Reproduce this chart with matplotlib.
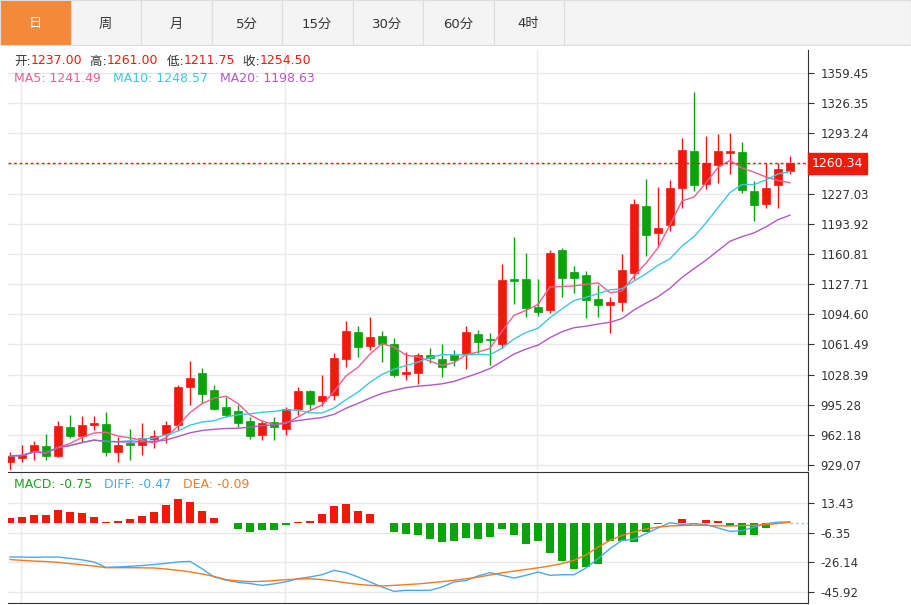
import numpy as np
import pandas as pd
import matplotlib
matplotlib.use("Agg")
import matplotlib.pyplot as plt
from matplotlib.patches import Rectangle
from matplotlib import font_manager

cjk = [f.name for f in font_manager.fontManager.ttflist if "CJK" in f.name]
print(sorted(set(cjk)))
cjk_name = "Noto Sans CJK SC" if "Noto Sans CJK SC" in cjk else (cjk[0] if cjk else "DejaVu Sans")
plt.rcParams["font.family"] = ["DejaVu Sans", cjk_name]

# candles: open, high, low, close
opens = [932.4, 936.8, 943.4, 950.1, 939.0, 971.0, 961.1, 973.2, 974.3, 943.4,
         952.3, 951.2, 957.8, 963.3, 973.2, 1015.2, 1030.6, 1011.9, 993.1, 988.7,
         977.7, 962.2, 976.5, 968.8, 990.9, 1010.8, 999.7, 1006.3, 1045.0, 1074.8,
         1059.3, 1070.3, 1061.5, 1029.5, 1030.6, 1049.4, 1045.0, 1049.4, 1050.5, 1072.6,
         1067.0, 1061.5, 1133.2, 1133.2, 1102.3, 1099.0, 1165.2, 1141.0, 1137.7, 1111.2,
         1104.6, 1107.9, 1139.9, 1213.8, 1184.0, 1192.8, 1233.7, 1273.4, 1238.1, 1258.0,
         1271.2, 1272.3, 1230.4, 1216.0, 1237.0, 1252.4]
highs = [943.4, 951.2, 955.6, 963.3, 977.7, 984.3, 983.2, 983.2, 987.6, 960.0,
         968.8, 975.4, 967.7, 977.7, 1017.4, 1042.8, 1036.1, 1017.4, 1004.1, 995.3,
         982.1, 978.8, 982.1, 993.1, 1015.2, 1011.9, 1028.4, 1051.6, 1086.9, 1081.4,
         1091.3, 1075.9, 1068.1, 1052.7, 1051.6, 1057.1, 1061.5, 1054.9, 1081.4, 1077.0,
         1073.7, 1149.8, 1179.6, 1161.9, 1133.2, 1165.2, 1167.0, 1147.6, 1142.1, 1126.6,
         1113.4, 1160.8, 1221.5, 1243.6, 1234.8, 1242.5, 1287.7, 1338.5, 1289.9, 1292.1,
         1293.2, 1283.3, 1241.4, 1260.2, 1261.0, 1267.9]
lows = [923.6, 932.4, 934.6, 934.6, 937.9, 958.9, 954.5, 967.7, 939.0, 932.4,
        934.6, 940.1, 947.9, 953.4, 967.7, 995.3, 997.5, 989.8, 982.1, 971.0,
        957.8, 956.7, 956.7, 962.2, 984.3, 990.9, 994.2, 1000.8, 1037.2, 1047.2,
        1054.9, 1041.7, 1026.2, 1022.9, 1018.5, 1040.6, 1026.2, 1038.3, 1035.0, 1051.6,
        1039.4, 1058.0, 1105.6, 1091.3, 1092.4, 1096.0, 1113.4, 1117.8, 1090.2, 1091.3,
        1073.7, 1097.9, 1133.0, 1158.6, 1169.7, 1186.2, 1211.6, 1230.4, 1232.6, 1239.2,
        1249.1, 1228.1, 1197.2, 1211.6, 1211.75, 1249.1]
closes = [939.0, 940.1, 951.2, 939.0, 972.1, 961.1, 973.2, 975.4, 943.4, 951.2,
          951.2, 958.9, 961.1, 973.2, 1015.2, 1025.1, 1007.4, 990.9, 984.3, 975.4,
          961.1, 975.4, 971.0, 990.9, 1010.8, 996.4, 1005.2, 1046.1, 1075.9, 1058.2,
          1069.2, 1061.5, 1028.4, 1030.6, 1049.4, 1046.1, 1037.2, 1043.9, 1074.8, 1063.7,
          1065.9, 1132.1, 1131.0, 1101.2, 1096.8, 1161.9, 1134.3, 1134.3, 1110.1, 1104.6,
          1107.9, 1143.2, 1216.0, 1181.8, 1189.5, 1233.7, 1274.5, 1237.0, 1260.2, 1273.4,
          1273.4, 1231.5, 1214.9, 1233.7, 1254.5, 1260.2]

macd_hist = [3.3, 4.0, 5.6, 5.6, 8.7, 7.1, 6.7, 4.2, 0.7, 1.6,
             2.7, 4.9, 7.6, 12.0, 16.0, 14.0, 8.4, 3.3, -0.2, -3.6,
             -5.8, -4.9, -4.4, -1.1, 0.9, 1.3, 6.2, 11.6, 12.9, 8.4,
             6.2, -0.2, -6.2, -7.1, -7.8, -10.7, -12.4, -11.8, -9.6, -10.9,
             -9.5, -3.6, -8.2, -13.8, -12.2, -20.0, -25.1, -30.7, -29.3, -27.1,
             -12.0, -12.0, -12.9, -5.8, -0.3, -0.2, 2.7, -0.3, 2.2, 1.6,
             -2.2, -8.2, -8.2, -3.3, -0.3, 0.0]
diff = [-22.6, -22.6, -22.8, -22.6, -22.6, -23.5, -24.5, -25.9, -29.5, -29.2,
        -28.8, -28.3, -27.6, -26.8, -25.9, -25.5, -30.4, -35.9, -38.0, -39.5,
        -40.3, -41.5, -40.5, -39.1, -37.0, -35.9, -34.4, -31.5, -33.0, -35.9,
        -39.2, -42.6, -45.5, -44.8, -44.8, -44.8, -42.6, -39.2, -38.3, -35.2,
        -33.0, -34.8, -36.6, -34.8, -32.6, -34.8, -34.4, -34.4, -29.9, -23.7,
        -17.0, -11.5, -10.8, -7.0, -3.2, 0.3, -1.0, -0.4, -0.9, -3.2,
        -5.5, -5.1, -2.6, -0.4, 0.7, 0.7]
dea = [-24.3, -24.8, -25.3, -25.6, -26.2, -27.0, -27.8, -28.6, -29.7, -29.7,
       -29.7, -29.8, -29.9, -30.6, -31.5, -32.5, -33.9, -35.5, -37.7, -38.5,
       -39.0, -38.8, -38.3, -37.7, -37.3, -37.1, -37.6, -38.6, -39.8, -40.8,
       -41.5, -41.9, -41.5, -41.0, -40.5, -39.8, -39.0, -38.1, -37.1, -36.0,
       -34.6, -33.1, -32.0, -30.9, -29.8, -28.5, -27.0, -24.8, -21.2, -16.0,
       -11.5, -8.2, -5.9, -3.9, -2.6, -1.9, -1.6, -1.4, -1.5, -1.8,
       -1.9, -1.6, -1.4, -0.9, -0.3, 0.7]

price_ticks = [929.07, 962.18, 995.28, 1028.39, 1061.49, 1094.60, 1127.71,
               1160.81, 1193.92, 1227.03, 1260.13, 1293.24, 1326.35, 1359.45]
macd_ticks = [13.43, -6.35, -26.14, -45.92]
tabs = ["日", "周", "月", "5分", "15分", "30分", "60分", "4时"]
last_price = 1260.34

RED = "#f01a0a"
GREEN = "#08a408"
C_MA5, C_MA10, C_MA20 = "#f0608c", "#3ec8de", "#b258c8"
W, H = 911, 605

fig = plt.figure(figsize=(W / 100, H / 100), dpi=100)
renderer = fig.canvas.get_renderer()


def px_axes(x0, y0, x1, y1):
    return fig.add_axes([x0 / W, 1 - y1 / H, (x1 - x0) / W, (y1 - y0) / H])


def seg_text(x, y, parts, size=9):
    # x, y in pixels from top-left; parts drawn one after another
    for txt, col in parts:
        t = fig.text(x / W, 1 - y / H, txt, fontsize=size, color=col, va="center")
        x += t.get_window_extent(renderer).width


# tab bar
tab_ax = px_axes(0, 0, W, 46)
tab_ax.set_xlim(0, W)
tab_ax.set_ylim(46, 0)
tab_ax.axis("off")
tab_ax.add_patch(Rectangle((0, 0), W, 45, fc="#f4f4f4", ec="#dddddd"))
for i, t in enumerate(tabs):
    x0 = i * 70.5
    active = i == 0
    tab_ax.add_patch(Rectangle((x0, 0), 70.5, 45, fc="#f5893a" if active else "#f4f4f4",
                               ec="#dddddd", lw=0.8))
    tab_ax.text(x0 + 35, 24, t, ha="center", va="center", fontsize=9.5,
                color="white" if active else "#333333")

n = len(closes)
xs = np.arange(n)
cl = pd.Series(closes)
ma5 = cl.rolling(5, min_periods=1).mean()
ma10 = cl.rolling(10, min_periods=1).mean()
ma20 = cl.rolling(20, min_periods=1).mean()

# main price panel
ax = px_axes(8, 50, 808, 470)
ppx = 1.1035
ax.set_ylim(929.07 - 5 * ppx, 929.07 + 413 * ppx)
ax.set_xlim(-0.17, 66.5)
for p in price_ticks:
    ax.axhline(p, color="#e6eaee", lw=1, zorder=0)
for v in [0.9, 22.9, 43.9]:
    ax.axvline(v, color="#e6eaee", lw=1, zorder=0)
for i in range(n):
    up = closes[i] >= opens[i]
    c = RED if up else GREEN
    ax.vlines(xs[i], lows[i], highs[i], color=c, lw=1, zorder=2)
    lo, hi = min(opens[i], closes[i]), max(opens[i], closes[i])
    ax.add_patch(Rectangle((xs[i] - 0.37, lo), 0.74, max(hi - lo, 1.5), fc=c, ec=c, lw=0.5, zorder=3))
ax.plot(xs, ma5, color=C_MA5, lw=1, zorder=4)
ax.plot(xs, ma10, color=C_MA10, lw=1, zorder=4)
ax.plot(xs, ma20, color=C_MA20, lw=1, zorder=4)
ax.axhline(last_price, color=RED, lw=1, ls=(0, (2, 2)), zorder=5)
ax.yaxis.tick_right()
ax.set_yticks([p for p in price_ticks if p != 1260.13])
ax.set_yticklabels([f"{p:.2f}" for p in price_ticks if p != 1260.13], fontsize=8.5, color="#333333")
ax.tick_params(axis="y", length=4, color="#333333", pad=5)
ax.set_xticks([])
for s in ["top", "left", "bottom"]:
    ax.spines[s].set_visible(False)
ax.spines["right"].set_color("#333333")
ax.text(1.005, last_price, f"{last_price:.2f}", transform=ax.get_yaxis_transform(),
        ha="left", va="center", fontsize=9, color="white",
        bbox=dict(boxstyle="square,pad=0.3", fc=RED, ec=RED))

# header text
GRAY = "#333333"
seg_text(14, 61, [("开:", GRAY), ("1237.00", RED), ("  高:", GRAY), ("1261.00", RED),
                  ("  低:", GRAY), ("1211.75", RED), ("  收:", GRAY), ("1254.50", RED)])
seg_text(14, 79, [("MA5: 1241.49", C_MA5), ("   MA10: 1248.57", C_MA10), ("   MA20: 1198.63", C_MA20)])

# MACD panel
mx = px_axes(8, 472, 808, 603)
mpx = 1.5
mx.set_ylim(-45.92 - 11 / mpx, 13.43 + 31 / mpx)
mx.set_xlim(-0.17, 66.5)
for t in macd_ticks:
    mx.axhline(t, color="#e6eaee", lw=1, zorder=0)
for v in [0.9, 22.9, 43.9]:
    mx.axvline(v, color="#e6eaee", lw=1, zorder=0)
cols = [RED if h >= 0 else GREEN for h in macd_hist]
mx.bar(xs, macd_hist, width=0.74, color=cols, zorder=2)
mx.plot([xs[-1], 66.5], [0, 0], color="#9ccbe8", lw=1, ls=(0, (2, 2)))
mx.plot(xs, diff, color="#4aa8f0", lw=1, zorder=3)
mx.plot(xs, dea, color="#f47a20", lw=1, zorder=3)
mx.yaxis.tick_right()
mx.set_yticks(macd_ticks)
mx.set_yticklabels([f"{t:.2f}" for t in macd_ticks], fontsize=8.5, color="#333333")
mx.tick_params(axis="y", length=4, color="#333333", pad=5)
mx.set_xticks([])
mx.spines["left"].set_visible(False)
for s in ["top", "bottom", "right"]:
    mx.spines[s].set_color("#333333")
seg_text(14, 485, [("MACD: -0.75", "#18a418"), ("   DIFF: -0.47", "#4aa8f0"), ("   DEA: -0.09", "#f47a20")])

fig.savefig("out.png", dpi=100)
